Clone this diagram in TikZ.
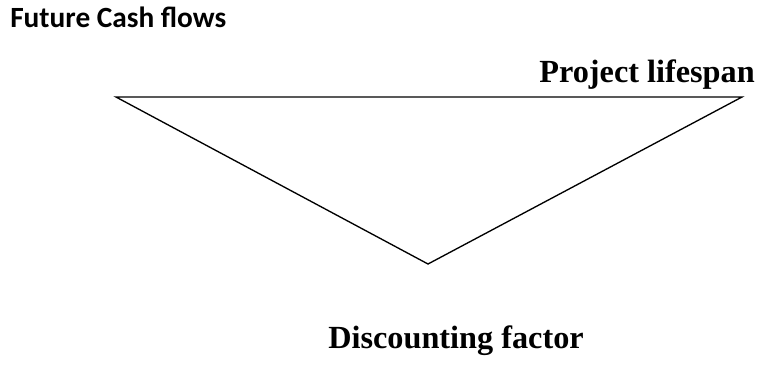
\documentclass[tikz,border=0pt]{standalone}
\usepackage{fontspec}
\setmainfont{Liberation Serif}
\newfontfamily\calib{Carlito}
\begin{document}
\begin{tikzpicture}[x=0.75pt,y=-0.75pt,
  edge/.style={draw=black,line width=1pt,line join=miter},
  serlabel/.style={inner sep=0pt,font=\fontsize{24.2}{28}\selectfont\bfseries},
  sanlabel/.style={inner sep=0pt,font=\calib\fontsize{22}{26}\selectfont\bfseries}]
\useasboundingbox (0,0) rectangle (760,369);
\coordinate (tl) at (116,97);
\coordinate (tr) at (742,97);
\coordinate (bt) at (428,264);
\draw[edge] (tl) -- (tr) -- (bt) -- cycle;
\node[sanlabel,anchor=base west] (fcf) at (10,27) {Future Cash flows};
\node[serlabel,anchor=base east] (pl) at (755,82) {Project lifespan};
\node[serlabel,anchor=base] (df) at (456,348) {Discounting factor};
\end{tikzpicture}
\end{document}
